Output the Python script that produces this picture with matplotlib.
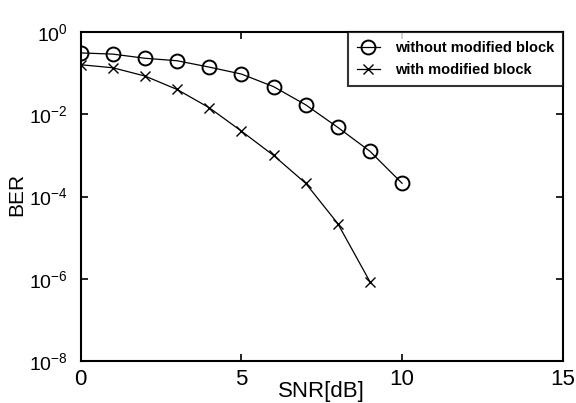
import math
import matplotlib
matplotlib.use("Agg")
import matplotlib.pyplot as plt
from matplotlib.ticker import FixedLocator, FuncFormatter, NullLocator

plt.rcParams['font.family'] = ['Liberation Sans', 'DejaVu Sans']
plt.rcParams['mathtext.fontset'] = 'custom'
plt.rcParams['mathtext.rm'] = 'Liberation Sans'
plt.rcParams['mathtext.it'] = 'Liberation Sans'

snr_without = [0, 1, 2, 3, 4, 5, 6, 7, 8, 9, 10]
ber_without = [0.31, 0.29, 0.23, 0.20, 0.14, 0.095, 0.047, 0.017, 0.0048, 0.00126, 0.00021]
snr_with = [0, 1, 2, 3, 4, 5, 6, 7, 8, 9]
ber_with = [0.16, 0.135, 0.085, 0.04, 0.0144, 0.0039, 0.001, 0.00021, 2.2e-5, 8.5e-7]
labels = ['without modified block', 'with modified block']
xticks = [0, 5, 10, 15]
ytick_exps = [0, -2, -4, -6, -8]

fig = plt.figure(figsize=(5.76, 4.03), dpi=100)
ax = fig.add_axes([80.7/576, 1 - 361/403, (562.7-80.7)/576, (361-32)/403])

ax.plot(snr_without, ber_without, color='black', lw=0.9, marker='o', ms=10,
        mfc='none', mec='black', mew=1.4, label=labels[0])
ax.plot(snr_with, ber_with, color='black', lw=0.9, marker='x', ms=7,
        mew=1.0, label=labels[1])

ax.set_yscale('log')
ax.set_xlim(0, 15)
ax.set_ylim(1e-8, 1e0)
ax.xaxis.set_major_locator(FixedLocator(xticks))
ax.yaxis.set_major_locator(FixedLocator([10.0**e for e in ytick_exps]))
ax.yaxis.set_minor_locator(NullLocator())
ax.yaxis.set_major_formatter(FuncFormatter(lambda v, p: r'$10^{%d}$' % round(math.log10(v))))
ax.tick_params(direction='in', top=True, right=True, length=5, width=1.2)
ax.tick_params(axis='x', labelsize=16, pad=6)
ax.tick_params(axis='y', labelsize=14, pad=9)
for s in ax.spines.values():
    s.set_linewidth(1.5)

ax.set_xlabel('SNR[dB]', fontsize=16)
ax.xaxis.set_label_coords(0.5, -0.062)
ax.set_ylabel('BER', fontsize=15)
ax.yaxis.set_label_coords(-0.112, 0.505)

leg = ax.legend(loc='upper right', frameon=True, fancybox=False,
                edgecolor='black', borderaxespad=0.0, handlelength=1.6,
                handletextpad=1.0, borderpad=0.6, labelspacing=0.6,
                prop={'weight': 'bold', 'size': 10.5})
leg.get_frame().set_linewidth(1.5)

fig.savefig('out.png', dpi=100)
